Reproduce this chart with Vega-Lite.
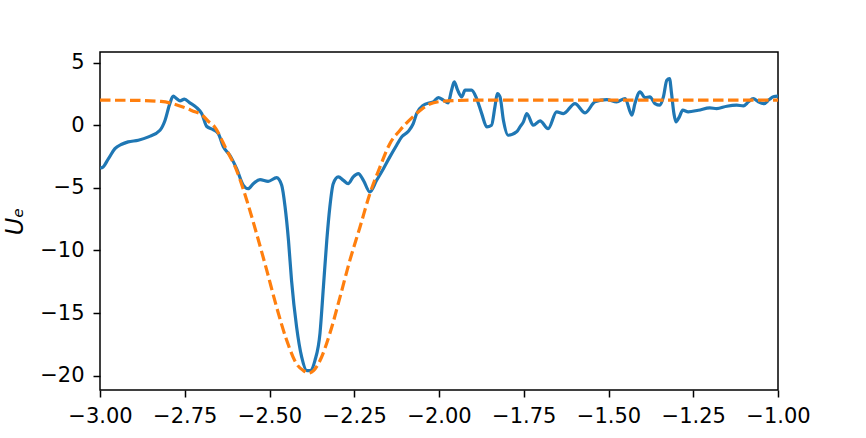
{
  "$schema": "https://vega.github.io/schema/vega-lite/v6.json",
  "width": 678,
  "height": 338,
  "autosize": {"type": "none"},
  "padding": {"left": 100, "top": 52, "right": 88, "bottom": 48},
  "background": "white",
  "config": {
    "view": {"stroke": "black", "strokeWidth": 1.5},
    "axis": {
      "domain": false, "grid": false,
      "tickColor": "black", "tickSize": 7, "tickWidth": 1.5,
      "labelFont": "DejaVu Sans", "labelFontSize": 21, "labelColor": "black",
      "labelOverlap": false, "labelFlush": false, "labelBound": false,
      "titleFont": "DejaVu Sans", "titleFontSize": 24, "titleColor": "black", "titleFontWeight": "normal"
    }
  },
  "datasets": {
    "measured": [
      {"x": -3.0, "u": -3.35}, {"x": -2.995, "u": -3.4}, {"x": -2.975, "u": -2.67}, {"x": -2.956, "u": -1.87},
      {"x": -2.936, "u": -1.52}, {"x": -2.917, "u": -1.33}, {"x": -2.887, "u": -1.2}, {"x": -2.857, "u": -0.93},
      {"x": -2.823, "u": -0.4}, {"x": -2.808, "u": 0.4}, {"x": -2.794, "u": 1.73}, {"x": -2.784, "u": 2.32},
      {"x": -2.774, "u": 2.13}, {"x": -2.764, "u": 1.95}, {"x": -2.751, "u": 2.08}, {"x": -2.735, "u": 1.79},
      {"x": -2.715, "u": 1.41}, {"x": -2.7, "u": 0.93}, {"x": -2.685, "u": -0.1}, {"x": -2.666, "u": -0.35},
      {"x": -2.651, "u": -0.67}, {"x": -2.636, "u": -1.73}, {"x": -2.617, "u": -2.4}, {"x": -2.597, "u": -3.47},
      {"x": -2.577, "u": -4.8}, {"x": -2.563, "u": -5.07}, {"x": -2.548, "u": -4.67}, {"x": -2.528, "u": -4.35},
      {"x": -2.504, "u": -4.48}, {"x": -2.479, "u": -4.19}, {"x": -2.464, "u": -4.8}, {"x": -2.454, "u": -6.53},
      {"x": -2.444, "u": -9.2}, {"x": -2.435, "u": -12.4}, {"x": -2.42, "u": -16.13}, {"x": -2.405, "u": -18.53},
      {"x": -2.39, "u": -19.6}, {"x": -2.38, "u": -19.6}, {"x": -2.366, "u": -18.8}, {"x": -2.351, "u": -16.6},
      {"x": -2.341, "u": -12.93}, {"x": -2.331, "u": -9.2}, {"x": -2.322, "u": -6.53}, {"x": -2.312, "u": -4.67},
      {"x": -2.297, "u": -4.13}, {"x": -2.282, "u": -4.4}, {"x": -2.268, "u": -4.67}, {"x": -2.253, "u": -4.13},
      {"x": -2.238, "u": -3.87}, {"x": -2.223, "u": -4.4}, {"x": -2.204, "u": -5.33}, {"x": -2.184, "u": -4.4},
      {"x": -2.164, "u": -3.47}, {"x": -2.145, "u": -2.53}, {"x": -2.125, "u": -1.6}, {"x": -2.11, "u": -0.93},
      {"x": -2.091, "u": -0.5}, {"x": -2.076, "u": 0.13}, {"x": -2.066, "u": 0.93}, {"x": -2.046, "u": 1.6},
      {"x": -2.027, "u": 1.79}, {"x": -2.017, "u": 1.87}, {"x": -2.002, "u": 2.21}, {"x": -1.987, "u": 2.0},
      {"x": -1.973, "u": 1.79}, {"x": -1.963, "u": 2.8}, {"x": -1.955, "u": 3.47}, {"x": -1.945, "u": 2.8},
      {"x": -1.933, "u": 2.27}, {"x": -1.923, "u": 2.8}, {"x": -1.904, "u": 2.8}, {"x": -1.889, "u": 2.13},
      {"x": -1.874, "u": 0.93}, {"x": -1.859, "u": -0.13}, {"x": -1.845, "u": 0.0}, {"x": -1.835, "u": 1.47},
      {"x": -1.828, "u": 2.53}, {"x": -1.82, "u": 2.27}, {"x": -1.81, "u": 0.4}, {"x": -1.796, "u": -0.8},
      {"x": -1.771, "u": -0.53}, {"x": -1.761, "u": -0.13}, {"x": -1.751, "u": 0.27}, {"x": -1.741, "u": 0.93},
      {"x": -1.722, "u": 0.0}, {"x": -1.702, "u": 0.35}, {"x": -1.678, "u": -0.27}, {"x": -1.653, "u": 1.07},
      {"x": -1.633, "u": 0.93}, {"x": -1.599, "u": 1.73}, {"x": -1.569, "u": 0.99}, {"x": -1.54, "u": 1.87},
      {"x": -1.505, "u": 2.05}, {"x": -1.476, "u": 1.87}, {"x": -1.451, "u": 2.13}, {"x": -1.431, "u": 0.8},
      {"x": -1.422, "u": 1.73}, {"x": -1.407, "u": 2.67}, {"x": -1.392, "u": 2.2}, {"x": -1.378, "u": 2.27},
      {"x": -1.363, "u": 1.73}, {"x": -1.348, "u": 1.6}, {"x": -1.338, "u": 2.27}, {"x": -1.328, "u": 3.6},
      {"x": -1.32, "u": 3.73}, {"x": -1.314, "u": 2.53}, {"x": -1.307, "u": 0.93}, {"x": -1.301, "u": 0.27},
      {"x": -1.291, "u": 0.67}, {"x": -1.281, "u": 1.2}, {"x": -1.265, "u": 1.07}, {"x": -1.235, "u": 1.2},
      {"x": -1.201, "u": 1.39}, {"x": -1.181, "u": 1.33}, {"x": -1.151, "u": 1.52}, {"x": -1.122, "u": 1.6},
      {"x": -1.102, "u": 1.55}, {"x": -1.087, "u": 1.87}, {"x": -1.073, "u": 2.13}, {"x": -1.058, "u": 1.87},
      {"x": -1.041, "u": 1.73}, {"x": -1.026, "u": 2.05}, {"x": -1.014, "u": 2.27}, {"x": -1.0, "u": 2.32}
    ],
    "fit": [
      {"x": -3.0, "u": 2.0}, {"x": -2.9, "u": 1.99}, {"x": -2.82, "u": 1.9}, {"x": -2.76, "u": 1.5},
      {"x": -2.72, "u": 1.07}, {"x": -2.7, "u": 0.85}, {"x": -2.68, "u": 0.3}, {"x": -2.666, "u": 0.0},
      {"x": -2.626, "u": -2.0}, {"x": -2.597, "u": -3.6}, {"x": -2.567, "u": -6.0}, {"x": -2.538, "u": -8.67},
      {"x": -2.508, "u": -11.6}, {"x": -2.479, "u": -14.53}, {"x": -2.449, "u": -17.2}, {"x": -2.42, "u": -19.07},
      {"x": -2.4, "u": -19.6}, {"x": -2.385, "u": -19.8}, {"x": -2.37, "u": -19.6}, {"x": -2.351, "u": -18.8},
      {"x": -2.322, "u": -16.64}, {"x": -2.292, "u": -13.73}, {"x": -2.263, "u": -10.8}, {"x": -2.233, "u": -8.13},
      {"x": -2.204, "u": -5.47}, {"x": -2.174, "u": -3.33}, {"x": -2.145, "u": -1.47}, {"x": -2.115, "u": -0.4},
      {"x": -2.076, "u": 0.7}, {"x": -2.05, "u": 1.3}, {"x": -2.027, "u": 1.7}, {"x": -2.0, "u": 1.88},
      {"x": -1.95, "u": 1.97}, {"x": -1.9, "u": 2.0}, {"x": -1.0, "u": 2.0}
    ]
  },
  "encoding": {
    "x": {
      "field": "x", "type": "quantitative",
      "scale": {"domain": [-3, -1], "nice": false, "zero": false},
      "axis": {"values": [-3, -2.75, -2.5, -2.25, -2, -1.75, -1.5, -1.25, -1], "format": ".2f", "title": null, "labelPadding": 8}
    },
    "y": {
      "field": "u", "type": "quantitative",
      "scale": {"domain": [-21.15, 5.85], "nice": false, "zero": false},
      "axis": {"values": [5, 0, -5, -10, -15, -20], "title": "Uₑ", "titleFontStyle": "italic", "labelPadding": 9, "titlePadding": 12}
    }
  },
  "layer": [
    {
      "data": {"name": "measured"},
      "mark": {"type": "line", "color": "#1f77b4", "strokeWidth": 3.2, "interpolate": "monotone", "clip": true}
    },
    {
      "data": {"name": "fit"},
      "mark": {"type": "line", "color": "#ff7f0e", "strokeWidth": 3.2, "strokeDash": [10.5, 4.5], "interpolate": "monotone", "clip": true}
    }
  ]
}
